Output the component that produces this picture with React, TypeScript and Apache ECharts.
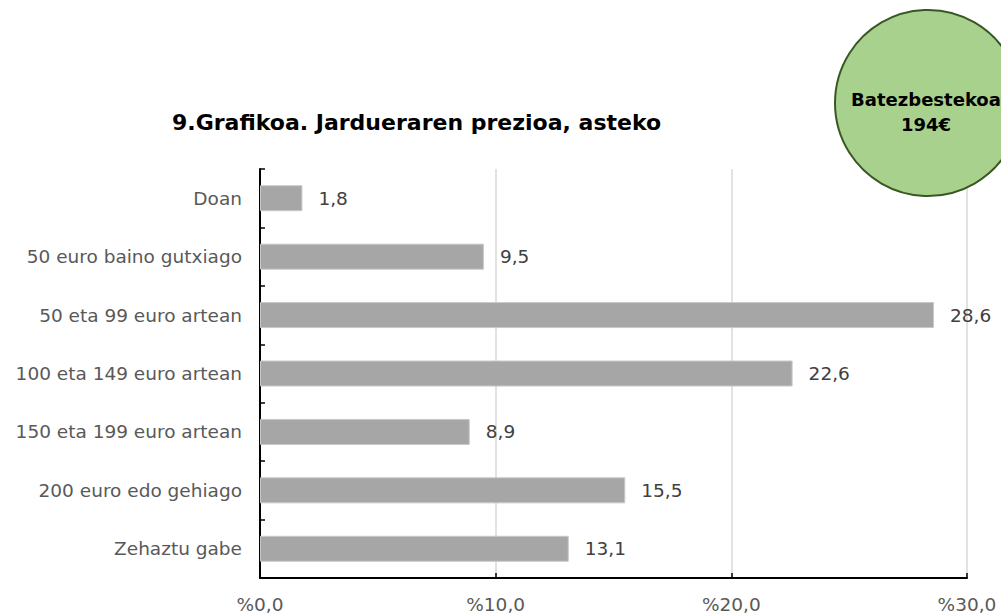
import React, { useEffect, useRef } from "react";
import * as echarts from "echarts";

const categories = [
  "Doan",
  "50 euro baino gutxiago",
  "50 eta 99 euro artean",
  "100 eta 149 euro artean",
  "150 eta 199 euro artean",
  "200 euro edo gehiago",
  "Zehaztu gabe",
];
const values = [1.8, 9.5, 28.6, 22.6, 8.9, 15.5, 13.1];
const xTicks = [0, 10, 20, 30];
const title = "9.Grafikoa. Jardueraren prezioa, asteko";
const badgeLines = ["Batezbestekoa", "194€"];

const FONT = "'DejaVu Sans', Verdana, sans-serif";

export default function App() {
  const ref = useRef<HTMLDivElement>(null);
  useEffect(() => {
    if (!ref.current) return;
    const chart = echarts.init(ref.current, undefined, { renderer: "svg" });
    chart.setOption({
      animation: false,
      backgroundColor: "#ffffff",
      textStyle: { fontFamily: FONT },
      grid: { left: 260, right: 34, top: 169, bottom: 34, containLabel: false },
      xAxis: {
        type: "value",
        min: xTicks[0],
        max: xTicks[xTicks.length - 1],
        interval: 10,
        axisLine: { show: true, lineStyle: { color: "#000000", width: 2 } },
        axisTick: { show: true, inside: true, length: 5, lineStyle: { color: "#000000", width: 1.5 } },
        splitLine: { show: true, lineStyle: { color: "#d9d9d9", width: 1.5 } },
        axisLabel: {
          color: "#595959",
          fontSize: 18.5,
          fontFamily: FONT,
          margin: 17,
          formatter: (v: number) => "%" + v.toFixed(1).replace(".", ","),
        },
      },
      yAxis: {
        type: "category",
        data: categories,
        inverse: true,
        axisLine: { show: true, lineStyle: { color: "#000000", width: 2 } },
        axisTick: { show: true, inside: true, length: 5, lineStyle: { color: "#000000", width: 1.5 } },
        splitLine: { show: false },
        axisLabel: { color: "#595959", fontSize: 18.5, fontFamily: FONT, margin: 18 },
      },
      series: [
        {
          type: "bar",
          data: values,
          barWidth: 26,
          itemStyle: { color: "#a6a6a6", borderColor: "#c8c8c8", borderWidth: 1 },
          label: {
            show: true,
            position: "right",
            distance: 16,
            color: "#404040",
            fontSize: 18.5,
            fontFamily: FONT,
            formatter: (p: any) => String(p.value.toFixed(1)).replace(".", ","),
          },
        },
      ],
      graphic: [
        {
          type: "text",
          left: 172,
          top: 111,
          style: {
            text: title,
            font: `bold 22px ${FONT}`,
            fill: "#000000",
          },
        },
        {
          type: "circle",
          shape: { cx: 928, cy: 103, r: 93 },
          style: { fill: "#a9d18e", stroke: "#385723", lineWidth: 2 },
          z: 10,
        },
        {
          type: "text",
          x: 926,
          y: 112,
          z: 11,
          style: {
            text: badgeLines.join("\n"),
            font: `bold 18px ${FONT}`,
            fill: "#000000",
            align: "center",
            verticalAlign: "middle",
            lineHeight: 25,
          },
        },
      ],
    });
    return () => chart.dispose();
  }, []);
  return (
    <div
      ref={ref}
      style={{ position: "absolute", left: 0, top: 0, width: 1001, height: 614 }}
    />
  );
}
